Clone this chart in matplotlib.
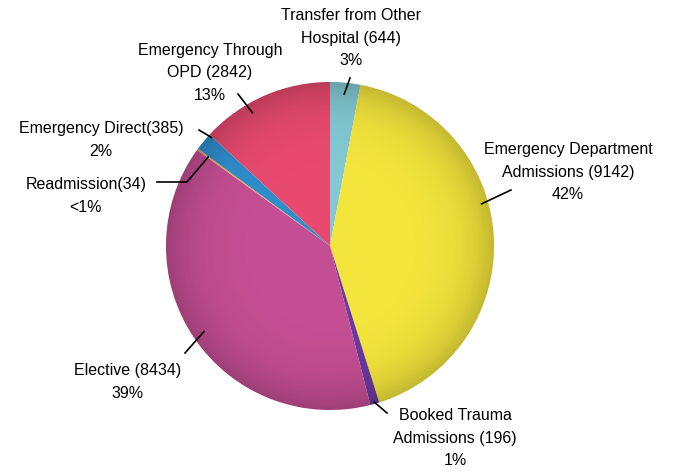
import numpy as np
import matplotlib
matplotlib.use('Agg')
from matplotlib import pyplot as plt

plt.rcParams['font.family'] = ['Liberation Sans', 'DejaVu Sans']

# admissions by source, clockwise from 12 o'clock
categories = ['Transfer from Other\nHospital', 'Emergency Department\nAdmissions',
              'Booked Trauma\nAdmissions', 'Elective', 'Readmission',
              'Emergency Direct', 'Emergency Through\nOPD']
counts = [644, 9142, 196, 8434, 34, 385, 2842]
pct_text = ['3%', '42%', '1%', '39%', '<1%', '2%', '13%']
colors = ['#82c9d3', '#f3e53c', '#6a3a9e', '#c44e93', '#f0a24e', '#2f8dcc', '#e84a6f']

W, H = 674, 471
CX, CY, R = 330, 246, 164   # pie centre and radius in pixels


def px(x, y):
    # pixel position -> data units (one unit = pie radius)
    return (x - CX) / R, (CY - y) / R


fig = plt.figure(figsize=(W / 100, H / 100), dpi=100)
ax = fig.add_axes([0, 0, 1, 1])

wedges, _ = ax.pie(counts, colors=colors, startangle=90, counterclock=False,
                   radius=1.0, center=(0, 0), frame=True,
                   wedgeprops=dict(linewidth=0))

# soft darkening toward the rim
n = 400
g = np.linspace(-1, 1, n)
gx, gy = np.meshgrid(g, g)
rr = np.sqrt(gx ** 2 + gy ** 2)
shade = np.zeros((n, n, 4))
shade[..., 3] = np.clip(0.2 * rr ** 6, 0, 0.3)
img = ax.imshow(shade, extent=(-1, 1, -1, 1), origin='lower', zorder=3)
circle = plt.Circle((0, 0), 1.0, transform=ax.transData)
img.set_clip_path(circle)
ax.set_xlim(-CX / R, (W - CX) / R)
ax.set_ylim((CY - H) / R, CY / R)
ax.set_aspect('auto')
ax.axis('off')

# label layout: text centre, how far clockwise through the wedge the leader
# starts, leader radius, and leader end points (pixels)
label_pos = [(351, 38), (568, 172), (455, 438), (128, 382), (86, 196), (101, 140), (210, 73)]
leader_frac = [0.5, 0.42, 0.5, 0.5, 0.5, 0.95, 0.36]
leader_r = [0.93, 0.96, 0.99, 0.93, 0.92, 0.98, 0.94]
leader_end = [[(350, 78)], [(511, 190)], [(387, 413)], [(185, 353)],
              [(187, 182), (157, 182)], [(199, 130)], [(238, 94)]]

for w, cat, c, p, pos, f, lr, ends in zip(wedges, categories, counts, pct_text,
                                          label_pos, leader_frac, leader_r, leader_end):
    ang = np.deg2rad(w.theta2 - f * (w.theta2 - w.theta1))
    xs = [lr * np.cos(ang)] + [px(*e)[0] for e in ends]
    ys = [lr * np.sin(ang)] + [px(*e)[1] for e in ends]
    ax.plot(xs, ys, color='black', lw=1.2, zorder=4)
    sep = '' if cat in ('Readmission', 'Emergency Direct') else ' '
    ax.text(*px(*pos), f'{cat}{sep}({c})\n{p}', ha='center', va='center',
            fontsize=11.5, linespacing=1.65, color='black', zorder=5)

fig.savefig('out.png', dpi=100)
